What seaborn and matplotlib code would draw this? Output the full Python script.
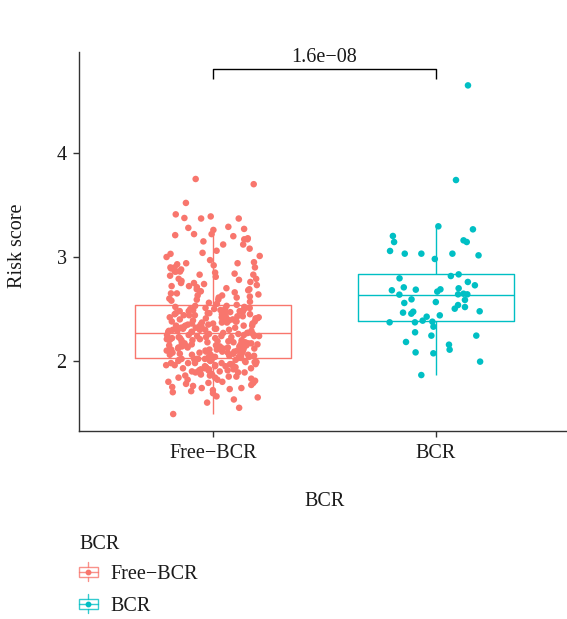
import numpy as np
import pandas as pd
import matplotlib
matplotlib.use("Agg")
import matplotlib.pyplot as plt
from matplotlib.patches import Rectangle
from matplotlib.lines import Line2D
import seaborn as sns

# Groups and their colours
groups = ["Free−BCR", "BCR"]
colors = ["#F8766D", "#00BFC4"]

# Risk scores of the biochemical-recurrence-free patients
free_bcr = [
    1.49, 1.55, 1.60, 1.63, 1.65, 1.66, 1.69,
    1.70, 1.71, 1.72, 1.73, 1.74, 1.74, 1.75, 1.76, 1.77, 1.78, 1.79, 1.79,
    1.80, 1.80, 1.81, 1.82, 1.82, 1.83, 1.84, 1.84, 1.85, 1.85, 1.86, 1.86,
    1.87, 1.87, 1.88, 1.88, 1.89, 1.89, 1.89, 1.90,
    1.90, 1.91, 1.91, 1.91, 1.92, 1.92, 1.92, 1.93, 1.93, 1.93, 1.94, 1.94,
    1.94, 1.95, 1.95, 1.95, 1.96, 1.96, 1.96, 1.96, 1.97, 1.97, 1.97, 1.98,
    1.98, 1.98, 1.98, 1.99, 1.99, 1.99, 2.00, 2.00, 2.00, 2.00, 2.01, 2.01,
    2.01, 2.01, 2.02, 2.02, 2.02, 2.02, 2.02,
    2.03, 2.03, 2.03, 2.04, 2.04, 2.04, 2.04, 2.05, 2.05, 2.05, 2.06, 2.06,
    2.06, 2.06, 2.07, 2.07, 2.07, 2.08, 2.08, 2.08, 2.08, 2.09, 2.09, 2.09,
    2.10, 2.10, 2.10, 2.10, 2.11, 2.11, 2.11, 2.12, 2.12, 2.12, 2.12, 2.13,
    2.13, 2.13, 2.14, 2.14, 2.14, 2.14, 2.15, 2.15, 2.15, 2.16, 2.16, 2.16,
    2.16, 2.17, 2.17, 2.17, 2.18, 2.18, 2.18, 2.18, 2.19, 2.19, 2.19, 2.20,
    2.20, 2.20, 2.20, 2.21, 2.21, 2.21, 2.22, 2.22, 2.22, 2.22, 2.23, 2.23,
    2.23, 2.24, 2.24, 2.24, 2.24, 2.25, 2.25, 2.25, 2.26, 2.26, 2.26,
    2.27, 2.27, 2.27, 2.28, 2.28, 2.28, 2.29, 2.29, 2.29, 2.30, 2.30, 2.30,
    2.30, 2.31, 2.31, 2.31, 2.32, 2.32, 2.32, 2.33, 2.33, 2.33, 2.34, 2.34,
    2.34, 2.34, 2.35, 2.35, 2.35, 2.36, 2.36, 2.36, 2.37, 2.37, 2.37, 2.38,
    2.38, 2.38, 2.38, 2.39, 2.39, 2.39, 2.40, 2.40, 2.40, 2.41, 2.41, 2.41,
    2.42, 2.42, 2.42, 2.43, 2.43, 2.43, 2.44, 2.44, 2.44, 2.45, 2.45, 2.45,
    2.46, 2.46, 2.46, 2.47, 2.47, 2.47, 2.48, 2.48, 2.48, 2.49, 2.49, 2.49,
    2.50, 2.50, 2.50, 2.51, 2.51, 2.51, 2.52, 2.52, 2.53, 2.53, 2.54,
    2.55, 2.56, 2.57, 2.58, 2.59, 2.59,
    2.60, 2.61, 2.61, 2.62, 2.63, 2.63, 2.64, 2.65, 2.65, 2.66, 2.67, 2.67,
    2.68, 2.69, 2.69,
    2.70, 2.71, 2.72, 2.72, 2.73, 2.74, 2.75, 2.75, 2.76, 2.77, 2.78, 2.79,
    2.79,
    2.81, 2.82, 2.83, 2.83, 2.84, 2.85, 2.86, 2.86, 2.86, 2.88, 2.89,
    2.90, 2.90, 2.90, 2.92, 2.93, 2.94, 2.94, 2.95, 2.97,
    3.00, 3.01, 3.03, 3.04, 3.06, 3.08,
    3.12, 3.12, 3.15, 3.17, 3.17, 3.18,
    3.20, 3.21, 3.22, 3.22, 3.26, 3.27, 3.28, 3.29,
    3.37, 3.37, 3.375, 3.39, 3.41, 3.52, 3.70, 3.75,
]

# Risk scores of the patients with biochemical recurrence
bcr = [
    3.266, 3.295, 3.202, 3.160, 3.144, 3.144, 3.058, 3.032, 3.032, 3.032,
    3.016, 2.981, 2.817, 2.833, 2.795, 2.760, 2.728, 2.708, 2.689, 2.686,
    2.699, 2.680, 2.667, 2.647, 2.641, 2.638, 2.641, 2.593, 2.587, 2.567,
    2.558, 2.538, 2.519, 2.503, 2.478, 2.474, 2.455, 2.465, 2.439, 2.426,
    2.388, 2.378, 2.372, 2.372, 2.330, 2.276, 2.244, 2.244, 2.183, 2.157,
    2.109, 2.083, 2.074, 1.994, 1.865, 3.74, 4.65,
]

p_label = "1.6e−08"
y_ticks = [2, 3, 4]

df = pd.DataFrame({
    "BCR": [groups[0]] * len(free_bcr) + [groups[1]] * len(bcr),
    "Risk score": free_bcr + bcr,
})

sns.set_style("ticks")
plt.rcParams["font.family"] = ["Liberation Serif", "DejaVu Serif"]
text_color = "#1a1a1a"
axis_color = "#333333"

W, H = 567, 619
fig = plt.figure(figsize=(W / 100, H / 100), dpi=100)
ax = fig.add_axes([79 / W, (H - 431) / H, 491 / W, 379 / H])

sns.boxplot(
    data=df, x="BCR", y="Risk score", hue="BCR",
    order=groups, hue_order=groups, palette=colors, saturation=1,
    fill=False, width=0.7, showfliers=False, linewidth=1.0,
    capprops={"linewidth": 0}, legend=False, ax=ax,
)

np.random.seed(7)
sns.stripplot(
    data=df, x="BCR", y="Risk score", hue="BCR",
    order=groups, hue_order=groups, palette=colors,
    jitter=0.21, size=4.7, linewidth=0, legend=False, ax=ax, zorder=3,
)

ax.set_xlim(-0.6, 1.6)
ax.set_ylim(1.327, 4.971)
ax.set_yticks(y_ticks)
ax.set_yticklabels([str(t) for t in y_ticks])

sns.despine(ax=ax)
for side in ("left", "bottom"):
    ax.spines[side].set_color(axis_color)
    ax.spines[side].set_linewidth(1.0)
ax.tick_params(axis="both", length=4, width=1.0, color=axis_color,
               labelsize=14.5, labelcolor=text_color, pad=5)

ax.set_xlabel("BCR", fontsize=14.5, color=text_color, va="center")
ax.xaxis.set_label_coords(0.5, (431 - 502) / 379)
ax.set_ylabel("Risk score", fontsize=14.5, color=text_color, va="center")
ax.yaxis.set_label_coords((17 - 79) / 491, (431 - 246) / 379)

# Significance bracket between the two groups
bracket_y, tip_y = 4.808, 4.712
ax.plot([0, 0, 1, 1], [tip_y, bracket_y, bracket_y, tip_y],
        color="black", lw=1.0, solid_capstyle="butt")
ax.text(0.5, 4.878, p_label, ha="center", va="baseline",
        fontsize=14.5, color=text_color)

# Legend with small boxplot keys
def fx(x):
    return x / W

def fy(y):
    return 1 - y / H

fig.text(fx(79), fy(549), "BCR", fontsize=14.5, color=text_color,
         ha="left", va="baseline")
for i, (name, col) in enumerate(zip(groups, colors)):
    cy = 571.7 + 32 * i
    cx = 88
    fig.add_artist(Rectangle((fx(cx - 9.5), fy(cy + 5)), 19 / W, 10 / H,
                             transform=fig.transFigure, fill=False,
                             ec=col, lw=1.0, alpha=0.8))
    fig.add_artist(Line2D([fx(cx), fx(cx)], [fy(cy + 9.5), fy(cy + 5)],
                          transform=fig.transFigure, color=col, lw=1.0, alpha=0.8))
    fig.add_artist(Line2D([fx(cx), fx(cx)], [fy(cy - 5), fy(cy - 9.5)],
                          transform=fig.transFigure, color=col, lw=1.0, alpha=0.8))
    fig.add_artist(Line2D([fx(cx - 9.5), fx(cx + 9.5)], [fy(cy), fy(cy)],
                          transform=fig.transFigure, color=col, lw=1.0, alpha=0.8))
    fig.add_artist(Line2D([fx(cx)], [fy(cy)], transform=fig.transFigure,
                          marker="o", markersize=3.2, color=col, lw=0))
    fig.text(fx(110), fy(cy + 7), name, fontsize=14.5, color=text_color,
             ha="left", va="baseline")

fig.savefig("out.png", dpi=100)
